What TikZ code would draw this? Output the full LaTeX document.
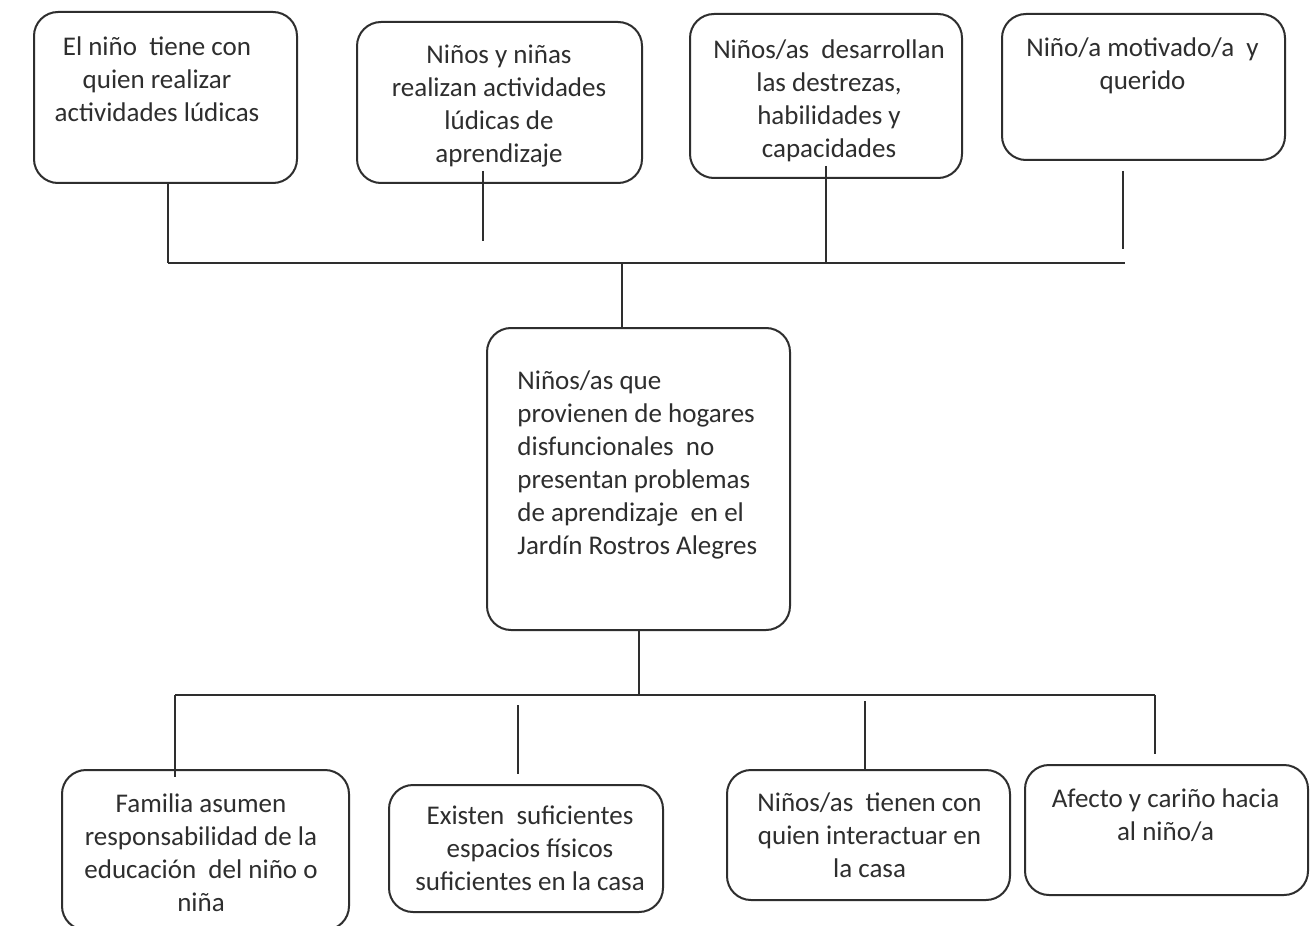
\documentclass[tikz,border=0pt]{standalone}
\usepackage{fontspec}
\setmainfont{Carlito}
\usetikzlibrary{positioning}

\definecolor{ink}{HTML}{2E2E2E}
\tikzset{
  box/.style={draw=ink, line width=1pt, rounded corners=12pt, inner sep=0pt},
  txt/.style={text=ink, align=center, inner sep=0pt,
              font=\fontsize{13.5}{16.5}\selectfont},
  wire/.style={draw=ink, line width=1pt},
}

\begin{document}
\begin{tikzpicture}[x=0.5pt, y=-0.5pt]
\useasboundingbox[fill=white] (0,0) rectangle (1315,925);
% efectos (fila superior)
\node[box, minimum width=131.5pt, minimum height=85.5pt] (e1) at (165.5, 97.5) {};
\node[box, minimum width=142.5pt, minimum height=80.5pt] (e2) at (499.5, 102.5) {};
\node[box, minimum width=136pt, minimum height=82pt] (e3) at (826, 96) {};
\node[box, minimum width=141.5pt, minimum height=73pt] (e4) at (1143.5, 87) {};
\node[txt] (te1) at (157, 79.5) {El niño\ \ tiene con\\quien realizar\\actividades lúdicas};
\node[txt] (te2) at (499, 106.5) {Niños y niñas\\realizan actividades\\lúdicas de\\aprendizaje};
\node[txt] (te3) at (829, 101) {Niños/as\ \ desarrollan\\las destrezas,\\habilidades y\\capacidades};
\node[txt] (te4) at (1142.5, 66) {Niño/a motivado/a\ \ y\\querido};
% problema central
\node[box, minimum width=151.5pt, minimum height=151pt] (pc) at (638.5, 479) {};
\node[txt, align=left, anchor=west] (tpc) at (517, 464.5) {Niños/as que\\provienen de hogares\\disfuncionales\ \ no\\presentan problemas\\de aprendizaje\ \ en el\\Jardín Rostros Alegres};
% causas (fila inferior)
\node[box, minimum width=143.5pt, minimum height=80pt] (c1) at (205.5, 850) {};
\node[box, minimum width=137pt, minimum height=63.5pt] (c2) at (526, 848.5) {};
\node[box, minimum width=141.5pt, minimum height=65pt] (c3) at (868.5, 835) {};
\node[box, minimum width=141.5pt, minimum height=65pt] (c4) at (1166.5, 830) {};
\node[txt] (tc1) at (201, 853) {Familia asumen\\responsabilidad de la\\educación\ \ del niño o\\niña};
\node[txt] (tc2) at (530, 848.5) {Existen\ \ suficientes\\espacios físicos\\suficientes en la casa};
\node[txt] (tc3) at (869.5, 835) {Niños/as\ \ tienen con\\quien interactuar en\\la casa};
\node[txt] (tc4) at (1165.5, 815) {Afecto y cariño hacia\\al niño/a};
% lineas
\coordinate (busA) at (168, 263);
\coordinate (busB) at (1125, 263);
\coordinate (busC) at (175, 695);
\coordinate (busD) at (1155, 695);
\draw[wire] (busA) -- (busB);
\draw[wire] (busC) -- (busD);
\draw[wire] (e1.south -| busA) -- (busA);
\draw[wire, shorten >=11pt] ([yshift=6.5pt]e2.south -| 483,0) -- (483,263);
\draw[wire] ([yshift=6.5pt]e3.south) -- (e3.south |- busA);
\draw[wire, shorten <=5pt, shorten >=7pt] (e4.south -| 1123,0) -- (1123,263);
\draw[wire] (pc.north -| 622,0) -- (622,263);
\draw[wire] (pc.south) -- (pc.south |- busC);
\draw[wire, shorten >=-4pt] (busC) -- (c1.north -| busC);
\draw[wire, shorten <=5pt, shorten >=5pt] (518,695) -- (c2.north -| 518,0);
\draw[wire, shorten <=3pt] (865,695) -- (c3.north -| 865,0);
\draw[wire, shorten >=5pt] (busD) -- (c4.north -| busD);
\end{tikzpicture}
\end{document}
